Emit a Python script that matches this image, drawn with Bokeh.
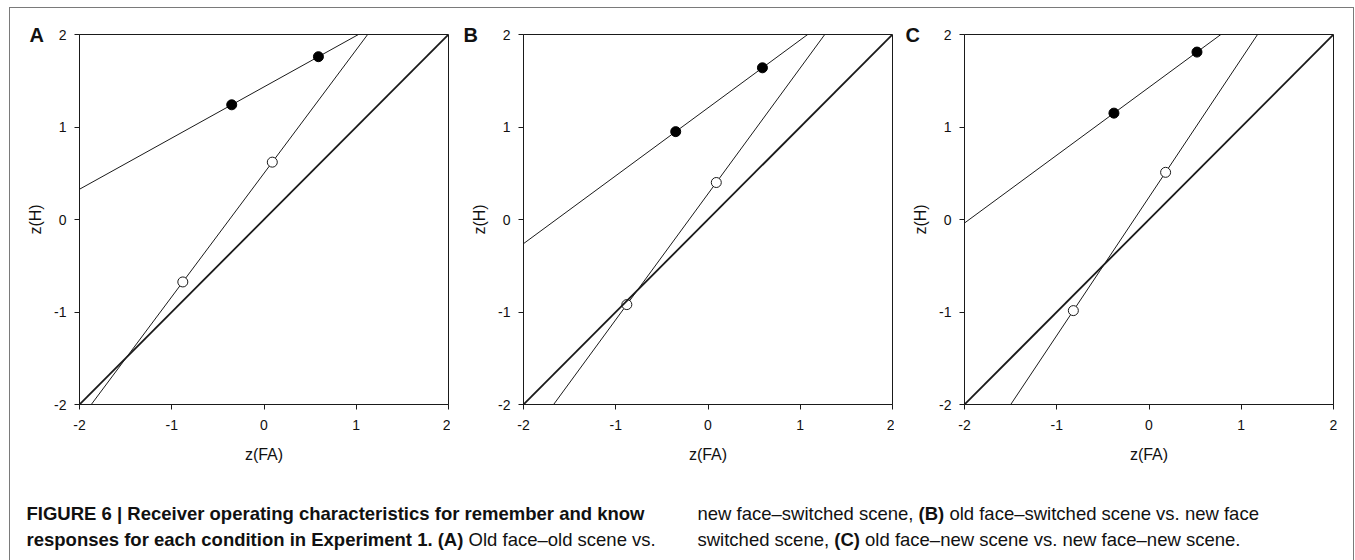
import numpy as np
from bokeh.plotting import figure
from bokeh.layouts import row, column
from bokeh.models import Range1d, Label, FixedTicker, Slope
from bokeh.embed import file_html
from bokeh.resources import INLINE

# ---------------- data ----------------
panel_letters = ["A", "B", "C"]
tick_values = [-2, -1, 0, 1, 2]
tick_labels = ["-2", "-1", "0", "1", "2"]

# remember (filled) and know (open) points: z(FA), z(H)
A_remember_fa = [-0.35, 0.59]
A_remember_h = [1.24, 1.76]
A_know_fa = [-0.88, 0.09]
A_know_h = [-0.675, 0.62]

B_remember_fa = [-0.35, 0.59]
B_remember_h = [0.95, 1.64]
B_know_fa = [-0.88, 0.09]
B_know_h = [-0.92, 0.40]

C_remember_fa = [-0.38, 0.52]
C_remember_h = [1.15, 1.81]
C_know_fa = [-0.82, 0.18]
C_know_h = [-0.985, 0.51]

x_label = "z(FA)"
y_label = "z(H)"

# caption: lines made of (text, bold) fragments
caption_col1 = [
    [("FIGURE 6 | Receiver operating characteristics for remember and know", True)],
    [("responses for each condition in Experiment 1. (A)", True), ("Old face\u2013old scene vs.", False)],
]
caption_col2 = [
    [("new face\u2013switched scene,", False), ("(B)", True), ("old face\u2013switched scene vs. new face", False)],
    [("switched scene,", False), ("(C)", True), ("old face\u2013new scene vs. new face\u2013new scene.", False)],
]

# ---------------- layout constants ----------------
CONTENT_W = 1343          # 1355 - 9 margin - 2 borders - 1
FRAME_W, FRAME_H = 369, 370
MB_TOP, MB_BOTTOM = 26, 66
CAP_H = 90
FRAME_COLOR = "#7a7a7a"
INK = "#1a1a1a"
TXT = "#111111"
FONT = "Liberation Sans"
CAP_SIZE = 18.5

# Liberation Sans (Arial-metric) advance widths, 1/1000 em, used to chain caption fragments
_REG = {" ": 278, "a": 556, "b": 556, "c": 500, "d": 556, "e": 556, "f": 278, "g": 556, "h": 556,
        "i": 222, "j": 222, "k": 500, "l": 222, "m": 833, "n": 556, "o": 556, "p": 556, "q": 556,
        "r": 333, "s": 500, "t": 278, "u": 556, "v": 500, "w": 722, "x": 500, "y": 500, "z": 500,
        ",": 278, ".": 278, "(": 333, ")": 333, "\u2013": 556, "|": 260, "O": 778, "A": 667,
        "B": 667, "C": 722, "E": 667, "F": 611, "G": 778, "I": 278, "R": 722, "U": 722}
_BOLD = {" ": 278, "a": 556, "b": 611, "c": 556, "d": 611, "e": 556, "f": 333, "g": 611, "h": 611,
         "i": 278, "j": 278, "k": 556, "l": 278, "m": 889, "n": 611, "o": 611, "p": 611, "q": 611,
         "r": 389, "s": 556, "t": 333, "u": 611, "v": 556, "w": 778, "x": 556, "y": 556, "z": 500,
         ",": 278, ".": 278, "(": 333, ")": 333, "\u2013": 556, "|": 280, "O": 778, "A": 722,
         "B": 722, "C": 722, "E": 667, "F": 611, "G": 778, "I": 278, "R": 722, "U": 722}


def text_width(s, bold, size):
    tab = _BOLD if bold else _REG
    return sum(tab.get(ch, 556) for ch in s) / 1000.0 * size


def panel(letter, letter_offset, min_left, min_right, rfa, rh, kfa, kh):
    p = figure(frame_width=FRAME_W, frame_height=FRAME_H,
               x_range=Range1d(-2, 2), y_range=Range1d(-2, 2),
               min_border_left=min_left, min_border_right=min_right,
               min_border_top=MB_TOP, min_border_bottom=MB_BOTTOM,
               toolbar_location=None, output_backend="svg")
    p.grid.visible = False
    p.outline_line_color = INK
    p.outline_line_width = 1
    for ax in (p.xaxis[0], p.yaxis[0]):
        ax.ticker = FixedTicker(ticks=tick_values)
        ax.major_label_overrides = {v: s for v, s in zip(tick_values, tick_labels)}
        ax.minor_tick_line_color = None
        ax.major_tick_out = 5
        ax.major_tick_in = 0
        ax.axis_line_color = INK
        ax.major_tick_line_color = INK
        ax.major_label_text_font = FONT
        ax.major_label_text_font_size = "14px"
        ax.major_label_text_color = TXT
        ax.axis_label_text_font = FONT
        ax.axis_label_text_font_size = "16px"
        ax.axis_label_text_font_style = "normal"
        ax.axis_label_text_color = TXT
    p.xaxis.major_label_standoff = 10
    p.yaxis.major_label_standoff = 8
    p.xaxis.axis_label = x_label
    p.yaxis.axis_label = y_label
    p.xaxis.axis_label_standoff = 13
    p.yaxis.axis_label_standoff = 7

    # panel letter as the (left aligned) title
    p.title.text = letter
    p.title.align = "left"
    p.title.offset = -letter_offset
    p.title.standoff = -23
    p.title.text_font = FONT
    p.title.text_font_size = "20px"
    p.title.text_font_style = "bold"
    p.title.text_color = TXT

    # chance diagonal
    p.add_layout(Slope(gradient=1, y_intercept=0, line_color=INK, line_width=1.8))

    xs = np.array([-2.5, 2.5])
    for fa, h in ((rfa, rh), (kfa, kh)):
        m, b = np.polyfit(fa, h, 1)
        p.line(xs, m * xs + b, line_color=INK, line_width=1.0)
    p.scatter(rfa, rh, size=10, fill_color="black", line_color="black")
    p.scatter(kfa, kh, size=10, fill_color="white", line_color=INK, line_width=1)
    return p


pA = panel(panel_letters[0], 50, 69, 2, A_remember_fa, A_remember_h, A_know_fa, A_know_h)
pB = panel(panel_letters[1], 60, 73, 2, B_remember_fa, B_remember_h, B_know_fa, B_know_h)
pC = panel(panel_letters[2], 59, 70, CONTENT_W - (440 + 444 + 70 + FRAME_W),
           C_remember_fa, C_remember_h, C_know_fa, C_know_h)

# caption (data coordinates equal page pixels)
cap = figure(width=CONTENT_W, height=CAP_H, x_range=Range1d(10, 10 + CONTENT_W),
             y_range=Range1d(560, 560 - CAP_H), x_axis_location=None, y_axis_location=None,
             toolbar_location=None, output_backend="svg", min_border=0, outline_line_color=None)
cap.grid.visible = False
line_y = [513, 539]


def put_lines(x0, lines):
    for y, frags in zip(line_y, lines):
        x = x0
        for text, bold in frags:
            cap.add_layout(Label(x=x, y=y, text=text, text_font=FONT, text_font_size=f"{CAP_SIZE}px",
                                 text_font_style="bold" if bold else "normal", text_align="left",
                                 text_baseline="middle", text_color=TXT))
            x += text_width(text + " ", bold, CAP_SIZE)


put_lines(26, caption_col1)
put_lines(697, caption_col2)

layout = column(row(pA, pB, pC), cap,
                styles={"border-left": f"1px solid {FRAME_COLOR}",
                        "border-top": f"1px solid {FRAME_COLOR}",
                        "border-right": f"1px solid {FRAME_COLOR}",
                        "margin-left": "9px", "margin-top": "7px"})
open("out.html", "w").write(file_html(layout, INLINE))
